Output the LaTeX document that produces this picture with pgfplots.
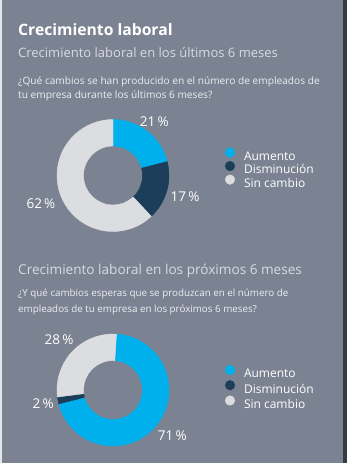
\documentclass[border=0pt]{standalone}
\usepackage{fontspec}
\setmainfont{Open Sans}
\usepackage{pgfplots}
\usepackage{pgfplotstable}
\pgfplotsset{compat=1.18}
\definecolor{bg}{HTML}{7B8291}
\definecolor{edgeL}{HTML}{E2E5EA}
\definecolor{edgeR}{HTML}{343B45}
\definecolor{aum}{HTML}{00B0EC}
\definecolor{dis}{HTML}{1C3E58}
\definecolor{sinc}{HTML}{DCDDE0}
\definecolor{subt}{HTML}{D8DBE0}
\definecolor{qtxt}{HTML}{ECEEF2}
\pgfdeclareplotmark{void}{}

% value = share in percent, start = cumulative share before the slice,
% c = colour index, lr = distance of the percentage label from the centre
\pgfplotstableread{
cat value start c lr
Aumento 21 0 0 67.5
Disminucion 17 21 1 75
Sincambio 62 38 2 77.5
}\donutA
\pgfplotstableread{
cat value start c lr
Aumento 71 0 0 75
Disminucion 2 71 1 71
Sincambio 28 73 2 74
}\donutB

\pgfplotsset{
  donut/.style={scatter, only marks, mark=void, forget plot,
    point meta=\thisrow{c}, point meta min=0, point meta max=2,
    visualization depends on={\thisrow{start} \as \startv},
    visualization depends on={\thisrow{value} \as \valv},
    visualization depends on={\thisrow{c} \as \cidx},
    visualization depends on={\thisrow{lr} \as \lrad},
    scatter/@pre marker code/.code={%
      \pgfmathsetmacro\angA{90-3.6*\startv}%
      \pgfmathsetmacro\angB{90-3.6*(\startv+\valv)}%
      \pgfmathsetmacro\angM{(\angA+\angB)/2}%
      \pgfmathtruncatemacro\ci{\cidx}%
      \pgfmathtruncatemacro\vv{\valv}%
      \ifcase\ci \def\slicecol{aum}\or \def\slicecol{dis}\else \def\slicecol{sinc}\fi
      \fill[\slicecol] (\angA:56pt) arc[start angle=\angA, end angle=\angB, radius=56pt]
        -- (\angB:29.5pt) arc[start angle=\angB, end angle=\angA, radius=29.5pt] -- cycle;
      \node[font=\fontsize{13.5}{16}\selectfont, text=white, inner sep=0pt] at (\angM:\lrad pt) {\vv\,\%};
    },
    scatter/@post marker code/.code={},
  },
  donutaxis/.style={anchor=center, x=1pt, y=1pt, xmin=-60, xmax=60, ymin=-60, ymax=60,
    hide axis, clip=false,
    legend cell align=left,
    legend image code/.code={\fill[##1] (0pt,4.5pt) circle[radius=4.8pt];},
    legend style={draw=none, fill=none, anchor=north west, inner sep=0pt, outer sep=0pt,
      font=\fontsize{12}{14}\selectfont, text=white, column sep=9pt,
      nodes={inner sep=0pt, text height=9.5pt, text depth=3pt}},
  },
}

\begin{document}
\begin{tikzpicture}[x=1pt, y=1pt]
\path[use as bounding box] (0,0) rectangle (347,-463);
\fill[bg] (0,0) rectangle (347,-463);
\fill[edgeL] (0,0) rectangle (1.7,-463);
\fill[edgeR] (342.5,0) rectangle (347,-463);

\node[anchor=base west, inner sep=0pt, text=white, font=\bfseries\fontsize{15.7}{18}\selectfont] at (18,-35) {Crecimiento laboral};
\node[anchor=base west, inner sep=0pt, text=subt, font=\fontsize{13}{16}\selectfont] at (18,-57.5) {Crecimiento laboral en los últimos 6 meses};
\node[anchor=base west, inner sep=0pt, text=qtxt, font=\fontsize{10.15}{12}\selectfont] at (18,-84) {¿Qué cambios se han producido en el número de empleados de};
\node[anchor=base west, inner sep=0pt, text=qtxt, font=\fontsize{10.15}{12}\selectfont] at (18,-98) {tu empresa durante los últimos 6 meses?};

\node[anchor=base west, inner sep=0pt, text=subt, font=\fontsize{13.6}{16}\selectfont] at (18,-274) {Crecimiento laboral en los próximos 6 meses};
\node[anchor=base west, inner sep=0pt, text=qtxt, font=\fontsize{9.8}{12}\selectfont] at (18,-296) {¿Y qué cambios esperas que se produzcan en el número de};
\node[anchor=base west, inner sep=0pt, text=qtxt, font=\fontsize{9.8}{12}\selectfont] at (18,-312.5) {empleados de tu empresa en los próximos 6 meses?};

\begin{axis}[donutaxis, at={(113pt,-175.5pt)},
  legend style={at={(axis cs:112,28)}, row sep=-2.2pt}]
\addplot[donut] table[x expr=0, y expr=0] {\donutA};
\addlegendimage{aum}\addlegendentry{Aumento}
\addlegendimage{dis}\addlegendentry{Disminución}
\addlegendimage{sinc}\addlegendentry{Sin cambio}
\end{axis}

\begin{axis}[donutaxis, at={(113pt,-390pt)},
  legend style={at={(axis cs:112,25)}, row sep=-0.5pt}]
\addplot[donut] table[x expr=0, y expr=0] {\donutB};
\addlegendimage{aum}\addlegendentry{Aumento}
\addlegendimage{dis}\addlegendentry{Disminución}
\addlegendimage{sinc}\addlegendentry{Sin cambio}
\end{axis}
\end{tikzpicture}
\end{document}
